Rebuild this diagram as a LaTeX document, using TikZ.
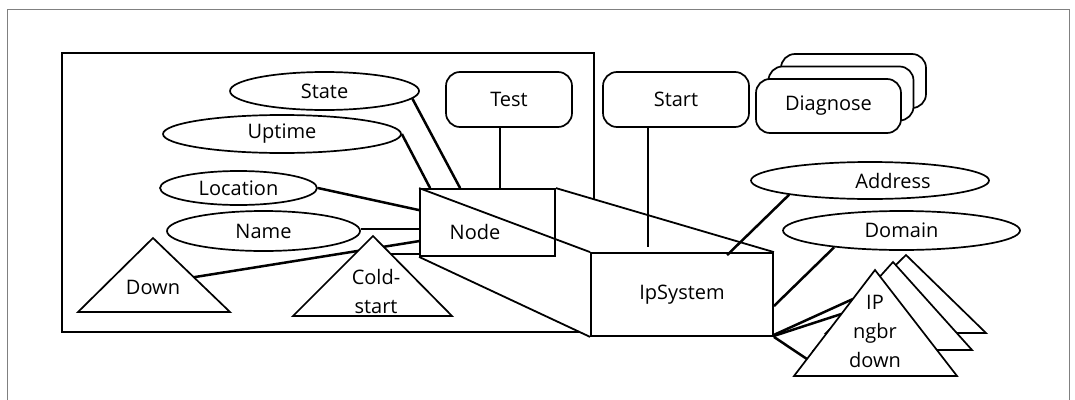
\documentclass[tikz,border=0pt]{standalone}
\usepackage{fontspec}
\setmainfont{Open Sans}
\usetikzlibrary{shapes.geometric,shadows,calc,backgrounds}
\tikzset{
    %Define standard text
    every node/.style={font=\fontsize{20}{29}\selectfont},
    %Define style for attributes
    attr/.style={
           ellipse,
           draw=black, line width=1.7pt,
           fill=white,
           inner sep=0pt,
           text centered},
    %Define style for relations
    rel/.style={
           rectangle,
           draw=black, line width=1.8pt,
           inner sep=0pt},
    %Define style for operations
    oper/.style={
           rectangle,
           rounded corners=14pt,
           draw=black, line width=1.7pt,
           fill=white,
           minimum height=55pt,
           inner sep=0pt},
    %Define style for triangles
    tri/.style={draw=black, line width=1.7pt, fill=white},
    % Define line styles
    lnk/.style={line width=2.5pt},
    edge3d/.style={line width=1.8pt},
    frame/.style={draw=black!50, line width=1pt}
}

\begin{document}
\begin{tikzpicture}[x=1pt,y=-1pt]
\useasboundingbox (0,0) rectangle (1075,399);
\draw[frame] (7,402) -- (7,9) -- (1069,9) -- (1069,402);

% attributes
\node[attr, minimum width=189pt, minimum height=38pt] (state) at (324.5,91) {State};
\node[attr, minimum width=238pt, minimum height=38pt] (uptime) at (282,134) {Uptime};
\node[attr, minimum width=157pt, minimum height=34pt] (location) at (238.5,188) {Location};
\node[attr, minimum width=193pt, minimum height=40pt] (name) at (263.5,231) {Name};
\node[attr, minimum width=238pt, minimum height=37pt] (address) at (870,180.5) {\hspace*{46pt}Address};
\node[attr, minimum width=237pt, minimum height=39pt] (domain) at (901.5,230.5) {Domain};

% operations
\node[oper, minimum width=126pt] (test) at (509,99.5) {Test};
\node[oper, minimum width=146pt] (start) at (676,99.5) {Start};
\node[oper, minimum width=145pt, minimum height=54pt,
      double copy shadow={shadow xshift=12.5pt, shadow yshift=12.5pt, draw=black, fill=white, line width=1.7pt}]
      (diag) at (828.5,106) {Diagnose};

% relations
\node[rel, minimum width=135pt, minimum height=67pt,
      label={[xshift=-12.5pt,yshift=-9.5pt]center:Node}] (nodebox) at (487.5,222.5) {};
\node[rel, minimum width=182pt, minimum height=83pt] (ips) at (682,294.5) {IpSystem};

\begin{scope}[on background layer]
\draw[line width=1.7pt] (62,53) rectangle (594,332);
\fill[white] (nodebox.north west) -- (nodebox.north east) -- (ips.north east)
    -- (ips.south east) -- (ips.south west) -- (nodebox.south west) -- cycle;
\end{scope}

\draw[edge3d] (nodebox.north west) -- (ips.north west);
\draw[edge3d] (nodebox.north east) -- (ips.north east);
\draw[edge3d] (nodebox.south west) -- (ips.south west);

% triangle corners
\coordinate (downA) at (153,238);
\coordinate (downL) at (78,312);
\coordinate (downR) at (230,312);
\coordinate (coldA) at (373,236);
\coordinate (coldL) at (293,316);
\coordinate (coldR) at (452,316);
\coordinate (ipA) at (875,270);
\coordinate (ipL) at (794,376);
\coordinate (ipR) at (957,376);
\coordinate (ipbA) at (893,262);
\coordinate (ipbL) at (814,350);
\coordinate (ipbR) at (972,350);
\coordinate (ipcA) at (906,255);
\coordinate (ipcL) at (826,333);
\coordinate (ipcR) at (986,333);
\coordinate (coldE) at ($(coldA)!0.225!(coldR)$);

% links to Node
\draw[lnk] (state.-5) -- ([xshift=41pt]nodebox.north west);
\draw[lnk] (uptime.east) -- ([xshift=11pt]nodebox.north west);
\draw[lnk] ([xshift=-9pt]test.south) -- ([xshift=-9pt]test.south |- nodebox.north);
\draw[lnk] (location.east) -- ([yshift=-22pt]nodebox.north west);
\draw[lnk] ([yshift=2pt]name.east) -- ([yshift=2pt]name.east -| nodebox.west);
\draw[lnk] ($(downA)!0.53!(downR)$) -- ([yshift=-53pt]nodebox.north west);
\draw[lnk] (coldE) -- (coldE -| nodebox.west);

\path[tri] (downA) -- (downR) -- (downL) -- cycle;
\node (downtxt) at (153,287) {Down};
\path[tri] (coldA) -- (coldR) -- (coldL) -- cycle;
\node[align=center] (coldtxt) at (376,291.5) {Cold-\\start};

% links to IpSystem
\draw[lnk] ([xshift=-28pt]start.south) -- ++(0,119);
\draw[lnk] (address.190) -- ([xshift=137pt,yshift=-3pt]ips.north west);
\draw[lnk] (domain.194) -- ([yshift=-54pt]ips.north east);
\draw[lnk] ([yshift=2pt]ips.south east) -- ($(ipA)!0.274!(ipL)$);
\draw[lnk] ([yshift=1pt]ips.south east) -- ($(ipA)!0.415!(ipL)$);
\draw[lnk] (ips.south east) -- ($(ipA)!0.84!(ipL)$);

\path[tri] (ipcA) -- (ipcR) -- (ipcL) -- cycle;
\path[tri] (ipbA) -- (ipbR) -- (ipbL) -- cycle;
\path[tri] (ipA) -- (ipR) -- (ipL) -- cycle;
\node[align=center] (iptxt) at (875,331) {IP\\ngbr\\down};
\end{tikzpicture}
\end{document}
